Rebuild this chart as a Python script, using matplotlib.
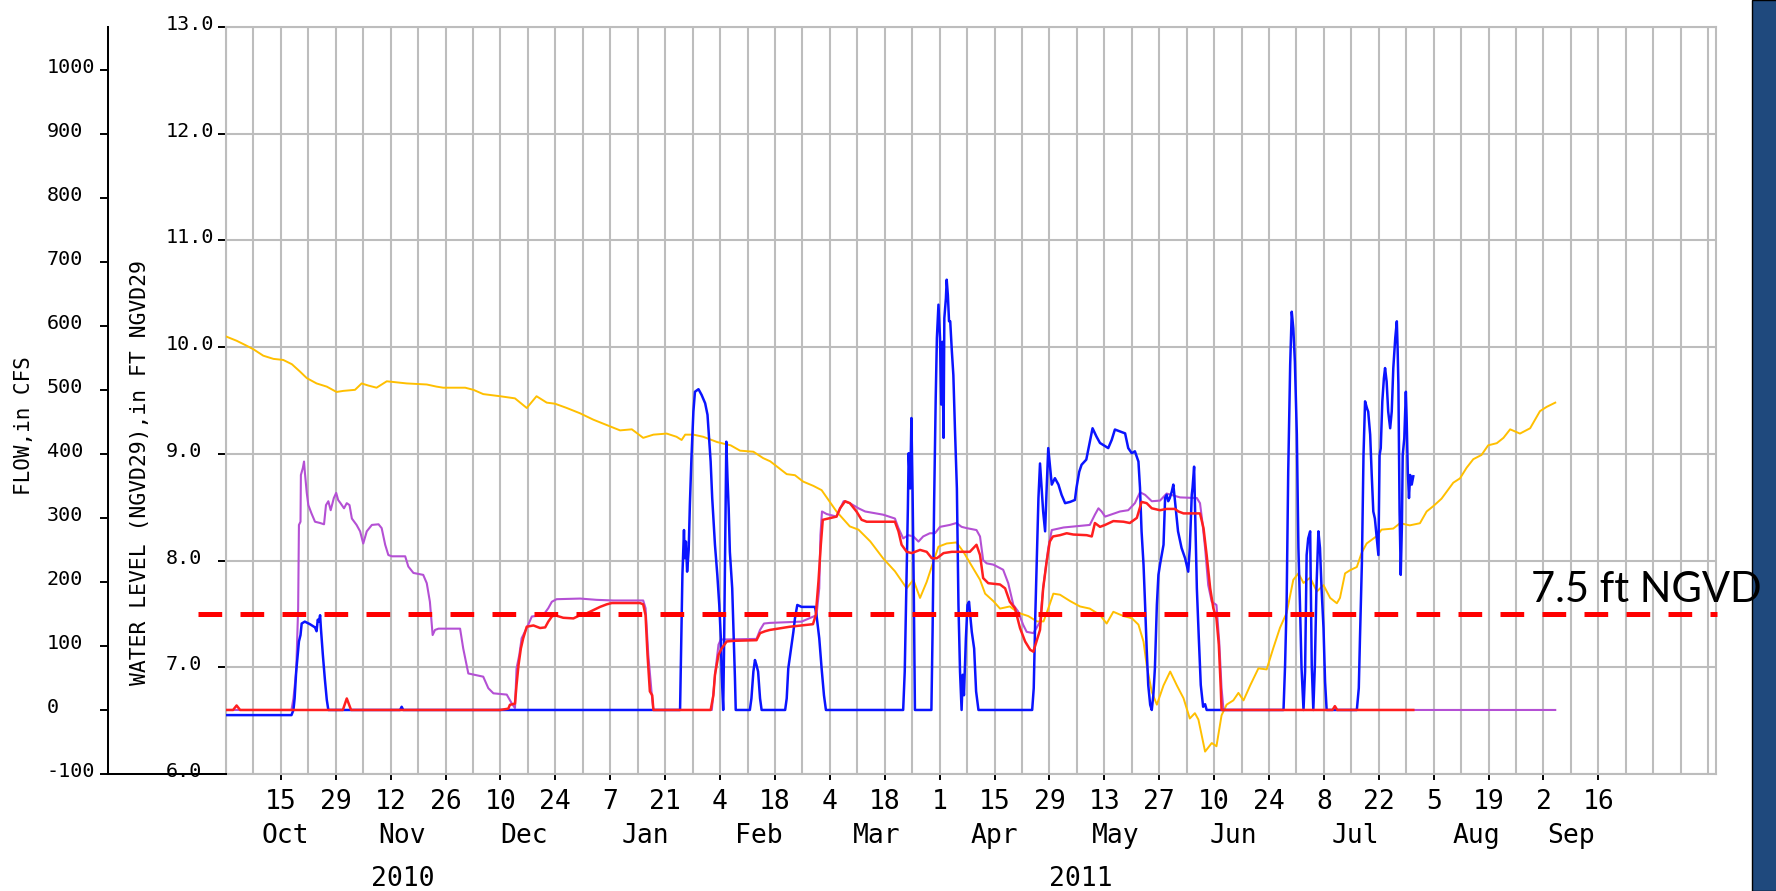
import numpy as np
import pandas as pd
import matplotlib
matplotlib.use("Agg")
import matplotlib.pyplot as plt
import matplotlib.dates as mdates
from matplotlib.ticker import FixedLocator, FixedFormatter
from matplotlib.transforms import blended_transform_factory, ScaledTranslation
from matplotlib.lines import Line2D
from matplotlib.patches import Rectangle

# ---------------- data ----------------
START = "2010-10-01"
END = "2011-10-16"

# Water level (ft NGVD29); days since START
level_days = [0, 2.7, 4.9, 7.0, 9.5, 12.1, 14.6, 16.8, 18.9, 20.6, 23.1, 25.7, 28.2, 29.9, 32.9, 34.6, 36.3,
              38.4, 41.0, 43.5, 46.1, 51.2, 53.7, 55.4, 58.8, 61.0, 63.1, 65.6, 69.9, 73.7, 76.7, 79.2, 81.8,
              83.9, 86.9, 90.3, 93.7, 97.1, 100.5, 103.5, 106.4, 109.0, 112.4, 114.9, 116.2, 117.1, 119.2,
              121.7, 125.3, 128.7, 131.1, 134.5, 137.0, 138.8, 143.0, 145.1, 147.2, 149.8, 151.9, 153.6,
              155.7, 159.1, 161.3, 164.3, 167.6, 170.6, 173.6, 175.3, 177.0, 178.7, 180.4, 181.7, 183.8,
              186.3, 188.1, 189.7, 192.3, 193.6, 195.7, 197.4, 199.9, 202.1, 204.6, 206.8, 208.5, 209.7,
              211.0, 212.7, 215.3, 217.8, 220.3, 222.9, 224.6, 226.3, 228.9, 231.0, 232.7, 234.0, 234.8,
              236.1, 237.4, 239.1, 240.8, 242.5, 244.2, 245.8, 247.1, 248.0, 249.7, 251.4, 252.6, 253.9,
              255.2, 256.9, 258.2, 259.5, 261.2, 263.3, 265.4, 267.1, 268.8, 270.5, 272.2, 273.5, 274.8,
              276.5, 278.2, 279.9, 281.6, 283.3, 284.1, 285.4, 286.7, 288.4, 289.6, 290.9, 293.5, 294.7,
              297.7, 299.4, 301.9, 304.5, 306.2, 307.9, 310.0, 313.0, 314.7, 316.4, 318.1, 320.2, 321.9,
              324.1, 325.8, 327.5, 330.0, 332.6, 335.1, 336.8, 339.0]
level_ft = [10.10, 10.06, 10.02, 9.98, 9.92, 9.89, 9.88, 9.84, 9.77, 9.71, 9.66, 9.63, 9.58, 9.59, 9.60, 9.66,
            9.64, 9.62, 9.68, 9.67, 9.66, 9.65, 9.63, 9.62, 9.62, 9.62, 9.60, 9.56, 9.54, 9.52, 9.43, 9.54,
            9.48, 9.47, 9.43, 9.38, 9.32, 9.27, 9.22, 9.23, 9.15, 9.18, 9.19, 9.16, 9.13, 9.18, 9.18, 9.16,
            9.11, 9.08, 9.03, 9.02, 8.96, 8.93, 8.81, 8.80, 8.74, 8.70, 8.66, 8.57, 8.46, 8.32, 8.29, 8.18,
            8.02, 7.90, 7.74, 7.82, 7.65, 7.80, 7.99, 8.13, 8.16, 8.17, 8.08, 7.98, 7.82, 7.69, 7.62, 7.55,
            7.57, 7.51, 7.48, 7.43, 7.43, 7.55, 7.69, 7.68, 7.62, 7.57, 7.55, 7.49, 7.41, 7.52, 7.48, 7.46,
            7.40, 7.24, 7.02, 6.77, 6.65, 6.83, 6.96, 6.83, 6.71, 6.52, 6.57, 6.51, 6.21, 6.29, 6.26, 6.55,
            6.65, 6.69, 6.76, 6.69, 6.83, 6.99, 6.98, 7.18, 7.37, 7.51, 7.82, 7.88, 7.79, 7.84, 7.71, 7.77,
            7.65, 7.60, 7.65, 7.88, 7.91, 7.94, 8.07, 8.16, 8.23, 8.29, 8.30, 8.35, 8.33, 8.35, 8.46, 8.51,
            8.58, 8.73, 8.77, 8.87, 8.95, 8.99, 9.08, 9.10, 9.15, 9.23, 9.19, 9.24, 9.40, 9.44, 9.48]

# Flow series (cfs)
purple_days = [0, 16.7, 17.2, 17.9, 18.4, 18.6, 19.0, 19.1, 19.6, 19.9, 20.1, 20.6, 21.0, 21.8, 22.7, 24.0,
               25.0, 25.5, 26.1, 26.7, 27.5, 28.1, 28.6, 29.2, 30.1, 30.8, 31.5, 32.1, 33.3, 34.2, 35.0,
               35.9, 37.2, 38.9, 39.7, 40.6, 41.4, 42.3, 45.7, 46.5, 47.8, 50.3, 51.2, 52.0, 52.7, 53.3,
               54.2, 59.7, 60.5, 61.8, 65.6, 66.9, 68.2, 71.6, 72.9, 73.7, 74.1, 74.8, 75.4, 76.7, 78.0,
               80.9, 82.2, 83.1, 84.3, 90.3, 94.5, 98.8, 106.4, 107.0, 107.7, 108.6, 109.0, 123.9, 124.8,
               125.6, 126.2, 135.3, 136.2, 137.2, 138.7, 146.8, 150.6, 151.3, 151.6, 152.0, 153.2, 155.7,
               157.5, 159.1, 161.3, 163.0, 167.6, 170.6, 171.5, 172.7, 174.0, 175.3, 176.6, 177.8, 179.5,
               180.8, 182.1, 184.6, 186.3, 187.6, 188.9, 191.4, 192.3, 193.1, 194.0, 195.7, 198.2, 199.5,
               200.8, 202.0, 203.3, 204.2, 205.9, 206.7, 207.6, 208.4, 209.7, 210.6, 213.6, 220.3, 221.6,
               222.5, 223.3, 224.2, 228.0, 230.1, 231.8, 233.1, 234.4, 236.1, 238.2, 239.9, 243.3, 247.6,
               248.4, 249.0, 249.7, 250.5, 251.4, 252.6, 253.3, 253.9, 254.4, 339.0]
purple_cfs = [0, 0, 18, 60, 159, 289, 294, 367, 378, 388, 372, 339, 320, 307, 294, 292,
              290, 320, 326, 312, 331, 339, 328, 323, 315, 323, 320, 299, 289, 279, 260,
              279, 289, 290, 284, 258, 242, 240, 240, 224, 214, 211, 198, 169, 117, 125,
              127, 127, 96, 57, 52, 34, 26, 24, 10, 3, 65, 86, 112, 128, 146,
              148, 159, 169, 173, 174, 172, 171, 171, 159, 86, 23, 0, 0, 60,
              102, 110, 111, 125, 135, 136, 138, 148, 190, 273, 310, 306, 302,
              326, 323, 315, 310, 305, 299, 284, 268, 273, 271, 263, 271, 276,
              276, 286, 289, 292, 286, 284, 281, 271, 234, 229, 227, 219, 198,
              164, 154, 133, 122, 120, 128, 138, 190, 253, 281, 285, 289, 305,
              315, 310, 302, 310, 312, 323, 340, 336, 326, 327, 338, 332, 331,
              323, 294, 253, 195, 169, 164, 107, 34, 0, 0]

red_days = [0, 1.8, 2.7, 3.6, 29.8, 30.8, 31.9, 69.9, 72.0, 72.4, 73.7, 74.1, 74.6, 75.2, 75.8, 76.7, 78.4,
            80.1, 81.4, 82.2, 83.1, 83.9, 86.0, 88.6, 90.3, 92.0, 93.7, 95.4, 97.1, 98.4, 105.6, 106.4,
            107.0, 107.5, 108.1, 108.7, 109.0, 123.6, 124.3, 124.7, 125.6, 126.4, 127.7, 129.4, 135.3,
            136.2, 137.5, 138.7, 143.8, 149.7, 150.4, 151.1, 151.7, 152.2, 153.6, 155.7, 156.6, 157.9,
            159.1, 160.8, 162.1, 163.4, 170.6, 171.5, 172.3, 173.6, 174.9, 177.0, 178.7, 180.0, 181.3,
            183.0, 185.1, 189.7, 191.4, 192.3, 193.1, 194.4, 197.4, 198.7, 199.9, 201.2, 202.5, 203.8,
            205.1, 205.9, 206.7, 207.6, 208.4, 209.3, 210.1, 210.9, 212.7, 214.4, 216.1, 219.5, 220.8,
            221.6, 222.9, 224.2, 226.3, 228.9, 230.5, 232.3, 233.5, 234.8, 236.1, 238.2, 239.9, 242.0,
            242.9, 244.2, 248.4, 249.3, 250.1, 251.0, 251.8, 252.6, 253.2, 253.7, 253.9, 282.2, 282.8,
            283.4, 302.8]
red_cfs = [0, 0, 7, 0, 0, 18, 0, 0, 2, 8, 10, 39, 70, 96, 112, 130, 132,
           128, 129, 138, 146, 148, 144, 143, 148, 151, 156, 161, 165, 167, 167, 165,
           148, 86, 29, 23, 0, 0, 23, 55, 86, 96, 107, 108, 109,
           120, 123, 125, 130, 134, 148, 201, 258, 297, 299, 302, 315, 326,
           323, 310, 297, 294, 294, 279, 258, 247, 245, 250, 247, 237, 237,
           245, 247, 247, 258, 242, 206, 198, 196, 190, 169, 159, 128, 107,
           94, 91, 107, 125, 190, 232, 263, 271, 273, 276, 274, 273, 271,
           292, 286, 289, 295, 294, 292, 300, 325, 323, 315, 312, 314, 314,
           310, 307, 307, 284, 242, 190, 159, 143, 102, 34, 0, 0, 6,
           0, 0]

blue_days = [0, 16.7, 17.2, 17.5, 17.9, 18.3, 18.6, 19.0, 19.3, 20.1, 21.4, 22.7, 23.1, 23.4, 23.7, 24.0,
             24.2, 24.7, 25.2, 25.7, 26.1, 44.4, 44.8, 45.2, 115.8, 116.0, 116.4, 116.8, 117.0, 117.3,
             117.6, 118.0, 118.3, 118.7, 119.2, 119.6, 120.5, 121.3, 122.2, 122.8, 123.2, 123.6, 124.0,
             124.7, 125.3, 125.8, 126.2, 126.4, 126.8, 127.0, 127.4, 127.6, 127.9, 128.2, 128.5, 129.1,
             129.5, 129.8, 130.0, 133.6, 134.0, 134.5, 134.9, 135.3, 135.7, 136.2, 136.6, 142.6, 143.0,
             143.4, 144.0, 144.7, 145.1, 145.7, 146.8, 150.2, 150.6, 151.3, 151.9, 152.5, 153.0, 172.7,
             173.1, 173.5, 173.9, 174.1, 174.5, 174.8, 175.1, 175.4, 175.7, 179.9, 180.2, 180.6, 181.0,
             181.3, 181.7, 182.1, 182.4, 182.7, 183.0, 183.2, 183.6, 183.8, 184.1, 184.4, 184.7, 185.1,
             185.5, 185.9, 186.4, 186.8, 187.2, 187.6, 187.9, 188.2, 188.7, 189.1, 189.5, 189.8, 190.2,
             190.8, 191.3, 191.9, 205.6, 206.0, 206.4, 206.8, 207.2, 207.6, 208.0, 208.4, 208.9, 209.3,
             209.7, 210.2, 210.6, 211.0, 211.4, 212.3, 213.1, 214.0, 215.3, 216.5, 216.9, 217.6, 218.2,
             219.4, 220.3, 221.0, 222.0, 222.9, 223.7, 225.0, 225.9, 226.7, 228.0, 229.3, 230.1, 231.0,
             231.8, 232.7, 233.1, 233.5, 234.0, 234.4, 234.8, 235.2, 235.7, 236.1, 236.5, 236.9, 237.4,
             237.8, 238.2, 239.1, 239.5, 239.9, 240.3, 240.7, 241.2, 241.6, 242.0, 242.4, 242.8, 243.7,
             244.6, 245.4, 245.8, 246.3, 246.5, 246.9, 247.1, 247.6, 248.1, 248.6, 249.2, 249.7, 250.1,
             269.7, 270.1, 270.5, 270.9, 271.4, 271.8, 272.2, 272.6, 273.1, 273.5, 273.9, 274.3, 274.8,
             275.2, 275.6, 276.0, 276.5, 276.9, 277.3, 277.7, 278.1, 278.6, 279.0, 279.4, 279.9, 280.3,
             280.7, 288.4, 288.9, 289.2, 289.7, 290.1, 290.5, 291.0, 291.3, 291.8, 292.2, 292.6, 293.0,
             293.5, 293.9, 294.2, 294.5, 294.9, 295.3, 295.6, 296.0, 296.4, 296.9, 297.3, 297.7, 298.2,
             298.6, 298.8, 299.0, 299.3, 299.6, 299.9, 300.1, 300.5, 300.9, 301.1, 301.4, 301.7, 302.0,
             302.4, 302.8]
blue_cfs = [-8, -8, 0, 18, 60, 86, 107, 117, 135, 138, 134, 129, 123, 141, 138, 148,
            128, 86, 49, 16, 0, 0, 5, 0, 0, 70, 211, 281, 237, 263,
            216, 250, 320, 393, 466, 497, 501, 492, 479, 461, 424, 388, 331,
            258, 211, 164, 112, 60, 0, 86, 310, 419, 362, 315, 247, 190,
            112, 49, 0, 0, 18, 60, 78, 70, 60, 18, 0, 0, 18,
            65, 91, 122, 143, 164, 161, 161, 148, 112, 65, 23, 0, 0,
            60, 185, 315, 401, 346, 456, 341, 190, 0, 0, 122, 326, 487,
            581, 633, 581, 477, 575, 425, 612, 643, 672, 648, 607, 607, 562,
            523, 440, 346, 164, 60, 0, 55, 23, 112, 164, 169, 148, 122,
            96, 29, 0, 0, 34, 148, 242, 331, 385, 347, 310, 279, 347,
            409, 378, 352, 357, 362, 352, 336, 323, 325, 328, 347, 372, 383,
            391, 419, 440, 427, 417, 414, 409, 422, 438, 435, 432, 409, 401,
            404, 388, 347, 279, 227, 164, 96, 39, 8, 0, 23, 65, 164,
            211, 227, 258, 331, 336, 326, 331, 341, 352, 328, 305, 279, 253,
            237, 216, 253, 336, 347, 380, 326, 190, 112, 39, 5, 9, 0,
            0, 70, 169, 372, 539, 622, 596, 544, 430, 253, 164, 65, 0,
            60, 242, 268, 279, 70, 0, 70, 190, 279, 253, 190, 128, 44,
            0, 0, 34, 112, 232, 398, 482, 471, 466, 430, 367, 310, 299,
            268, 242, 398, 409, 482, 518, 534, 513, 466, 440, 466, 534, 581,
            607, 565, 508, 310, 211, 289, 398, 424, 497, 456, 372, 331, 367,
            352, 365]

LEVEL_TICKS = [6, 7, 8, 9, 10, 11, 12, 13]
FLOW_TICKS = [-100, 0, 100, 200, 300, 400, 500, 600, 700, 800, 900, 1000]
FLOW_PER_FT = 500.0 / 3.0            # flow axis scaled to the water-level axis
REFERENCE_LEVEL = 7.5
REFERENCE_TEXT = "7.5 ft NGVD"
TICK_FIRST, TICK_LAST = "2010-10-15", "2011-09-16"
MONTH_NAMES = ["Oct", "Nov", "Dec", "Jan", "Feb", "Mar", "Apr", "May", "Jun", "Jul", "Aug", "Sep"]
MONTH_POS = ["2010-10-16", "2010-11-15", "2010-12-16", "2011-01-16", "2011-02-14", "2011-03-16",
             "2011-04-15", "2011-05-16", "2011-06-15", "2011-07-16", "2011-08-16", "2011-09-09"]
YEAR_NAMES = ["2010", "2011"]
YEAR_POS = ["2010-11-15", "2011-05-07"]

# ---------------- figure ----------------
W, H = 1776, 891
fig = plt.figure(figsize=(W / 100, H / 100), dpi=100)
fig.patch.set_facecolor("white")

def fx(px):
    return px / W

def fy(py):
    return 1 - py / H

L, R, T, B = 226, 1716, 27, 774
FLOW_SPINE = 108
ax = fig.add_axes([fx(L), fy(B), fx(R - L), (B - T) / H])
t0 = mdates.date2num(pd.Timestamp(START))
t1 = mdates.date2num(pd.Timestamp(END))

def tx(days):
    return t0 + np.asarray(days, dtype=float)

GRID = "#bdbdbd"
ax.set_xlim(t0, t1)
ax.set_ylim(LEVEL_TICKS[0], LEVEL_TICKS[-1])

weeks = mdates.date2num(pd.date_range(START, "2011-10-14", freq="7D"))
majors = pd.date_range(TICK_FIRST, TICK_LAST, freq="14D")
ax.xaxis.set_major_locator(FixedLocator(mdates.date2num(majors)))
ax.xaxis.set_major_formatter(FixedFormatter([str(d.day) for d in majors]))
ax.xaxis.set_minor_locator(FixedLocator(weeks))
ax.yaxis.set_major_locator(FixedLocator(LEVEL_TICKS))

ax.grid(True, which="both", axis="x", color=GRID, lw=1.5, zorder=0)
ax.grid(True, which="major", axis="y", color=GRID, lw=1.5, zorder=0)
for s in ax.spines.values():
    s.set_color(GRID)
    s.set_linewidth(1.5)

mono = "DejaVu Sans Mono"
ax.tick_params(axis="x", which="major", direction="out", length=4.3, width=1.4, color="k",
               pad=6.5, labelsize=19, labelfontfamily=mono)
ax.tick_params(axis="x", which="minor", length=0)
ax.tick_params(axis="y", which="major", direction="out", length=5.8, width=1.4, color="k",
               labelleft=False)

ax.plot(tx(level_days), level_ft, color="#ffbf00", lw=1.4, zorder=3)

ax2 = ax.twinx()
ax2.set_ylim(-100, -100 + (LEVEL_TICKS[-1] - LEVEL_TICKS[0]) * FLOW_PER_FT)
ax2.yaxis.set_ticks_position("left")
ax2.spines["left"].set_position(("outward", (L - FLOW_SPINE) * 0.72))
ax2.spines["left"].set_color("k")
ax2.spines["left"].set_linewidth(1.45)
for k in ("right", "top", "bottom"):
    ax2.spines[k].set_visible(False)
ax2.yaxis.set_major_locator(FixedLocator(FLOW_TICKS))
ax2.tick_params(axis="y", direction="out", length=5.8, width=1.4, color="k", labelleft=False)

ax2.plot(tx(purple_days), purple_cfs, color="#b450d4", lw=1.5, zorder=3)
ax2.plot(tx(blue_days), blue_cfs, color="#0a14ff", lw=1.8, zorder=4)
ax2.plot(tx(red_days), red_cfs, color="#ff1f1f", lw=1.8, zorder=5)

# y tick labels: left aligned, a little above each tick
lift = ScaledTranslation(0, -0.03, fig.dpi_scale_trans)
tl = blended_transform_factory(ax.transAxes, ax.transData) + lift
for v in LEVEL_TICKS:
    ax2.text((166 - L) / (R - L), v, f"{v:.1f}", transform=tl, ha="left", va="baseline",
             fontsize=14.5, family=mono, clip_on=False, zorder=3)
tf = blended_transform_factory(ax.transAxes, ax2.transData) + lift
for v in FLOW_TICKS:
    ax2.text((47 - L) / (R - L), v, str(v), transform=tf, ha="left", va="baseline",
             fontsize=14.5, family=mono, clip_on=False, zorder=3)

# bottom connector between the two left axes
ax2.add_line(Line2D([-(L - FLOW_SPINE) / (R - L), 0], [0, 0], transform=ax.transAxes, color="k",
                    lw=1.45, clip_on=False, zorder=6))

# reference level dashed line
tr = blended_transform_factory(ax.transAxes, ax.transData)
ax2.add_line(Line2D([(198 - L) / (R - L), (1717 - L) / (R - L)], [REFERENCE_LEVEL] * 2,
                    transform=tr, color="#ff0000", lw=3.6, linestyle=(0, (4.74, 3.66)),
                    dash_capstyle="butt", clip_on=False, zorder=10))

# month / year labels
bt = blended_transform_factory(ax.transData, fig.transFigure)
for name, d in zip(MONTH_NAMES, MONTH_POS):
    ax.text(mdates.date2num(pd.Timestamp(d)), fy(843), name, transform=bt, ha="center",
            va="baseline", fontsize=19, family=mono)
for name, d in zip(YEAR_NAMES, YEAR_POS):
    ax.text(mdates.date2num(pd.Timestamp(d)), fy(886), name, transform=bt, ha="center",
            va="baseline", fontsize=19, family=mono)

# axis titles
fig.text(fx(24), fy(426), "FLOW,in CFS", rotation=90, ha="center", va="center",
         fontsize=15, family=mono)
fig.text(fx(140), fy(473), "WATER LEVEL (NGVD29),in FT NGVD29", rotation=90, ha="center",
         va="center", fontsize=15.4, family=mono)

# right side bar and annotation
fig.patches.append(Rectangle((fx(1752), 0), fx(W - 1752) + 0.01, 1, transform=fig.transFigure,
                             facecolor="#1f497d", edgecolor="black", lw=1, zorder=1))
fig.text(fx(1531), fy(601.7), REFERENCE_TEXT, ha="left", va="baseline", fontsize=30,
         family="Lato", color="black", zorder=5)

fig.savefig("out.png", dpi=100)
